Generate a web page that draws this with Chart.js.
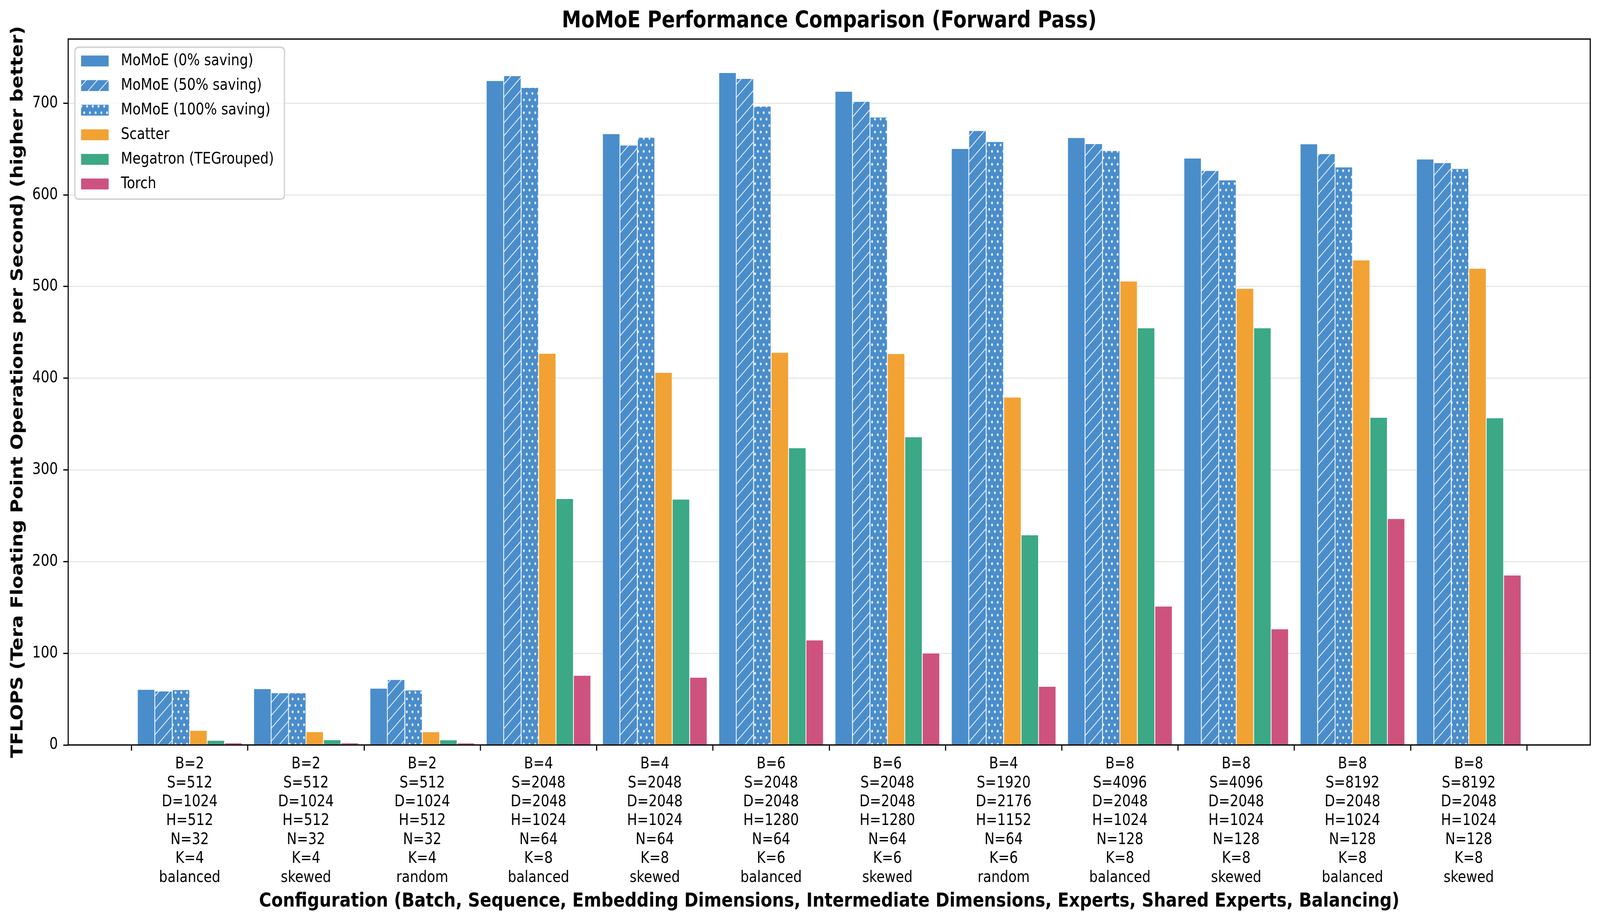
<!DOCTYPE html>
<html><head><meta charset="utf-8">
<script src="https://cdn.jsdelivr.net/npm/chart.js@4"></script>
<style>html,body{margin:0;padding:0;background:#fff;overflow:hidden;width:100%;height:100%;} #c{display:block;width:100vw;height:100vh;}</style>
</head><body><canvas id="c" width="4764" height="2364" style="width:100vw;height:100vh;display:block"></canvas>
<script>
// ---- configuration (category) arrays ----
const batch      = [2, 2, 2, 4, 4, 6, 6, 4, 8, 8, 8, 8];
const seqLen     = [512, 512, 512, 2048, 2048, 2048, 2048, 1920, 4096, 4096, 8192, 8192];
const embDim     = [1024, 1024, 1024, 2048, 2048, 2048, 2048, 2176, 2048, 2048, 2048, 2048];
const interDim   = [512, 512, 512, 1024, 1024, 1280, 1280, 1152, 1024, 1024, 1024, 1024];
const experts    = [32, 32, 32, 64, 64, 64, 64, 64, 128, 128, 128, 128];
const sharedK    = [4, 4, 4, 8, 8, 6, 6, 6, 8, 8, 8, 8];
const balancing  = ['balanced', 'skewed', 'random', 'balanced', 'skewed', 'balanced', 'skewed', 'random', 'balanced', 'skewed', 'balanced', 'skewed'];

// ---- series values (TFLOPS) ----
const momoe0   = [60.7, 61.4, 61.9, 724.7, 666.8, 733.5, 713.0, 650.6, 662.5, 640.2, 655.7, 639.1];
const momoe50  = [58.9, 56.9, 71.4, 730.0, 654.4, 727.1, 702.1, 670.2, 656.0, 626.7, 645.0, 635.2];
const momoe100 = [60.3, 56.9, 60.0, 717.3, 662.9, 696.8, 684.9, 658.2, 648.4, 616.3, 630.5, 628.8];
const scatter  = [16.0, 14.5, 14.5, 427.2, 406.4, 428.3, 426.9, 379.4, 506.0, 498.0, 529.0, 520.0];
const megatron = [5.1, 5.7, 5.6, 268.8, 268.2, 324.2, 336.1, 229.2, 455.0, 455.0, 357.4, 356.9];
const torch    = [2.3, 2.3, 2.2, 76.0, 73.9, 114.5, 100.3, 64.0, 151.5, 126.7, 247.0, 185.3];

const seriesNames = ['MoMoE (0% saving)', 'MoMoE (50% saving)', 'MoMoE (100% saving)', 'Scatter', 'Megatron (TEGrouped)', 'Torch'];
const yTicks = [0, 100, 200, 300, 400, 500, 600, 700];

const tickLabels = batch.map((b, i) => [
  'B=' + b, 'S=' + seqLen[i], 'D=' + embDim[i], 'H=' + interDim[i],
  'N=' + experts[i], 'K=' + sharedK[i], balancing[i]
]);

const BLUE = '#4A8DCB', ORANGE = '#F2A233', GREEN = '#3BA886', PINK = '#CE527E';
const FONT = "'DejaVu Sans', 'Liberation Sans', sans-serif";

function hatchPattern() {
  const s = 33;
  const c = document.createElement('canvas'); c.width = s; c.height = s;
  const x = c.getContext('2d');
  x.fillStyle = BLUE; x.fillRect(0, 0, s, s);
  x.strokeStyle = 'rgba(238,243,250,0.92)'; x.lineWidth = 2.4;
  for (const k of [0, s, 2 * s]) {
    x.beginPath(); x.moveTo(-3, k + 3); x.lineTo(k + 3, -3); x.stroke();
  }
  return x.createPattern(c, 'repeat');
}
function dotPattern() {
  const w = 17, h = 33;
  const c = document.createElement('canvas'); c.width = w; c.height = h;
  const x = c.getContext('2d');
  x.fillStyle = BLUE; x.fillRect(0, 0, w, h);
  x.fillStyle = 'rgba(236,242,250,0.95)';
  for (const [cx, cy] of [[4.25, 8.25], [12.75, 24.75]]) {
    x.beginPath(); x.ellipse(cx, cy, 2.8, 3.4, 0, 0, Math.PI * 2); x.fill();
  }
  return x.createPattern(c, 'repeat');
}

const ctx = document.getElementById('c').getContext('2d');
const fills = [BLUE, hatchPattern(), dotPattern(), ORANGE, GREEN, PINK];
const seriesData = [momoe0, momoe50, momoe100, scatter, megatron, torch];

const datasets = seriesData.map((arr, k) => ({
  label: seriesNames[k],
  data: arr.map((v, i) => ({ x: i, y: v })),
  backgroundColor: fills[k],
  borderColor: 'rgba(255,255,255,0.9)',
  borderWidth: 1.2,
  borderSkipped: 'bottom',
  categoryPercentage: 0.9,
  barPercentage: 1.0
}));

const frameAndLegend = {
  id: 'frameAndLegend',
  afterDraw(chart) {
    const c = chart.ctx, a = chart.chartArea;
    c.save();
    // spines
    c.strokeStyle = '#000'; c.lineWidth = 3.3;
    c.strokeRect(a.left, a.top, a.right - a.left, a.bottom - a.top);
    // legend
    const lx = 223, ly = 121, lw = 624, lh = 389, r = 12;
    c.beginPath();
    c.moveTo(lx + r, ly); c.lineTo(lx + lw - r, ly); c.quadraticCurveTo(lx + lw, ly, lx + lw, ly + r);
    c.lineTo(lx + lw, ly + lh - r); c.quadraticCurveTo(lx + lw, ly + lh, lx + lw - r, ly + lh);
    c.lineTo(lx + r, ly + lh); c.quadraticCurveTo(lx, ly + lh, lx, ly + lh - r);
    c.lineTo(lx, ly + r); c.quadraticCurveTo(lx, ly, lx + r, ly); c.closePath();
    c.fillStyle = 'rgba(255,255,255,0.8)'; c.fill();
    c.strokeStyle = '#d4d4d4'; c.lineWidth = 4; c.stroke();
    c.font = '40px ' + FONT; c.textBaseline = 'middle'; c.textAlign = 'left'; c.fillStyle = '#000';
    chart.data.datasets.forEach((ds, i) => {
      const y = 141.7 + i * 63;
      c.fillStyle = ds.backgroundColor; c.fillRect(241, y, 83, 29);
      c.strokeStyle = 'rgba(255,255,255,0.9)'; c.lineWidth = 1.2; c.strokeRect(241, y, 83, 29);
      c.fillStyle = '#000'; c.fillText(ds.label, 360, y + 15);
    });
    c.restore();
  }
};

new Chart(ctx, {
  type: 'bar',
  data: { datasets },
  options: {
    responsive: false,
    devicePixelRatio: 1,
    animation: false,
    layout: { padding: { left: 0, right: 29, top: 0, bottom: 0 } },
    plugins: {
      legend: { display: false },
      tooltip: { enabled: false },
      title: {
        display: true,
        fullSize: false,
        text: 'MoMoE Performance Comparison (Forward Pass)',
        color: '#000',
        font: { family: FONT, size: 58, weight: 'bold', lineHeight: 1.2 },
        padding: { top: 20.2, bottom: 10.2 }
      }
    },
    scales: {
      x: {
        type: 'linear',
        min: -1.045, max: 12.045,
        offset: false,
        afterBuildTicks(scale) { scale.ticks = batch.map((_, i) => ({ value: i })); },
        afterFit(scale) { scale.height = 456; },
        ticks: {
          autoSkip: false, maxRotation: 0, minRotation: 0, includeBounds: false,
          padding: 11, color: '#000',
          font: { family: FONT, size: 40, lineHeight: 1.21 },
          callback: (v) => tickLabels[Math.round(v)]
        },
        grid: { display: true, drawOnChartArea: false, drawTicks: true, tickLength: 14.6, tickWidth: 3.3, tickColor: '#000' },
        border: { display: false },
        title: {
          display: true,
          text: 'Configuration (Batch, Sequence, Embedding Dimensions, Intermediate Dimensions, Experts, Shared Experts, Balancing)',
          color: '#000',
          font: { family: FONT, size: 50, weight: 'bold', lineHeight: 1.2 },
          padding: { top: 0, bottom: 25 }
        }
      },
      y: {
        min: 0, max: 770,
        z: 1,
        afterBuildTicks(scale) { scale.ticks = yTicks.map(v => ({ value: v })); },
        afterFit(scale) { scale.width = 203; },
        ticks: {
          includeBounds: false, padding: 16, color: '#000',
          font: { family: FONT, size: 40 }
        },
        grid: { display: true, drawOnChartArea: true, color: 'rgba(176,176,176,0.3)', lineWidth: 3,
                drawTicks: true, tickLength: 14.6, tickWidth: 3.3, tickColor: '#000' },
        border: { display: false },
        title: {
          display: true,
          text: 'TFLOPS (Tera Floating Point Operations per Second) (higher better)',
          color: '#000',
          font: { family: FONT, size: 49, weight: 'bold', lineHeight: 1.2 },
          padding: { top: 24.6, bottom: 0 }
        }
      }
    }
  },
  plugins: [frameAndLegend]
});
</script>
</body></html>
